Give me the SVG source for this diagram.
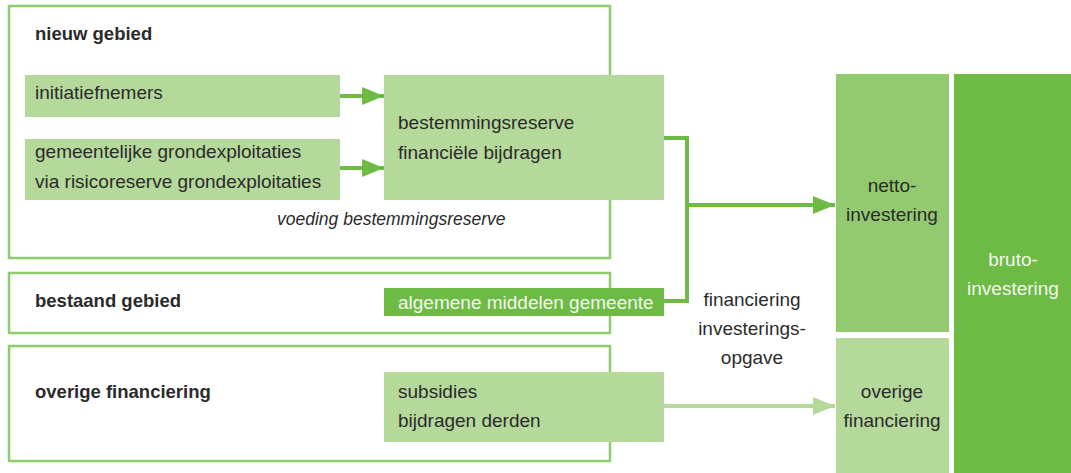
<svg xmlns="http://www.w3.org/2000/svg" width="1071" height="473" viewBox="0 0 1071 473">
<defs>
<style>
.frame{fill:none;stroke:#8fcc70;stroke-width:2.5}
.lt{fill:#b5d89b}
.md{fill:#6dbb45}
.nt{fill:#93c96f}
text{font-family:"Liberation Sans",Arial,sans-serif;font-size:19px;fill:#2b2b2b}
.b{font-weight:bold;font-size:18.5px}
.i{font-style:italic;font-size:17.5px}
.w{fill:#f2f7ee}
.c{text-anchor:middle}
.con{fill:none;stroke:#6dbb45;stroke-width:4}
.conl{fill:none;stroke:#b5d89b;stroke-width:4}
</style>
<marker id="ah" markerUnits="userSpaceOnUse" markerWidth="24" markerHeight="20" refX="22" refY="10" orient="auto"><path d="M0,1 L22,10 L0,19 Z" fill="#6dbb45"/></marker>
<marker id="ahl" markerUnits="userSpaceOnUse" markerWidth="24" markerHeight="20" refX="22" refY="10" orient="auto"><path d="M0,1 L22,10 L0,19 Z" fill="#b5d89b"/></marker>
</defs>
<g id="nieuw-gebied">
<rect class="frame" x="9" y="6" width="601" height="252"/>
<text class="b" x="35" y="40">nieuw gebied</text>
</g>
<g id="bestaand-gebied">
<rect class="frame" x="9" y="273" width="601" height="60"/>
<text class="b" x="35" y="307">bestaand gebied</text>
</g>
<g id="overige-financiering-links">
<rect class="frame" x="9" y="346" width="601" height="115"/>
<text class="b" x="35" y="398">overige financiering</text>
</g>
<g id="initiatiefnemers">
<rect class="lt" x="25" y="75" width="315" height="42"/>
<text x="35" y="99">initiatiefnemers</text>
</g>
<g id="grondexploitaties">
<rect class="lt" x="25" y="139" width="315" height="61"/>
<text x="35" y="158">gemeentelijke grondexploitaties</text>
<text x="35" y="188">via risicoreserve grondexploitaties</text>
</g>
<g id="bestemmingsreserve">
<rect class="lt" x="384" y="75" width="280" height="125"/>
<text x="398" y="129">bestemmingsreserve</text>
<text x="398" y="159">financiële bijdragen</text>
</g>
<g id="voeding-label">
<text class="i" x="277" y="225">voeding bestemmingsreserve</text>
</g>
<g id="algemene-middelen">
<rect class="md" x="384" y="288" width="280" height="28"/>
<text class="w" x="398" y="309">algemene middelen gemeente</text>
</g>
<g id="subsidies">
<rect class="lt" x="384" y="372" width="280" height="70"/>
<text x="398" y="398">subsidies</text>
<text x="398" y="427">bijdragen derden</text>
</g>
<g id="financiering-label">
<text class="c" x="752" y="306">financiering</text>
<text class="c" x="752" y="335">investerings-</text>
<text class="c" x="752" y="364">opgave</text>
</g>
<g id="netto-investering">
<rect class="nt" x="836" y="74" width="113" height="258"/>
<text class="c" x="892" y="192">netto-</text>
<text class="c" x="892" y="221">investering</text>
</g>
<g id="overige-financiering-rechts">
<rect class="lt" x="836" y="338" width="113" height="135"/>
<text class="c" x="892" y="398">overige</text>
<text class="c" x="892" y="427">financiering</text>
</g>
<g id="bruto-investering">
<rect class="md" x="954" y="74" width="117" height="399"/>
<text class="c w" x="1013" y="266">bruto-</text>
<text class="c w" x="1013" y="295">investering</text>
</g>
<g id="connectors">
<path class="con" d="M340,96 H384" marker-end="url(#ah)"/>
<path class="con" d="M340,168 H384" marker-end="url(#ah)"/>
<path class="con" d="M664,138 H687 V301 H664"/>
<path class="con" d="M687,205 H835" marker-end="url(#ah)"/>
<path class="conl" d="M664,406 H835" marker-end="url(#ahl)"/>
</g>
</svg>
